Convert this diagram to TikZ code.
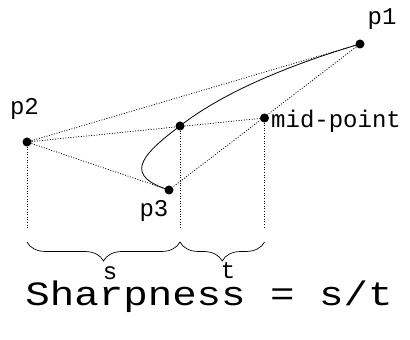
\documentclass[tikz,border=0pt]{standalone}
\usepackage{fontspec}
\setmonofont{Liberation Mono}
\usetikzlibrary{decorations.pathreplacing}

\begin{document}
\begin{tikzpicture}[
    x=1pt, y=1pt,
    dot/.style={circle, fill=black, inner sep=0pt, minimum size=9pt},
    guide/.style={dash pattern=on 1pt off 1.6pt, line width=0.75pt, draw=black},
    curve/.style={line width=0.8pt, draw=black},
    lbl/.style={anchor=base, inner sep=0pt, font=\fontsize{24}{29}\selectfont\ttfamily},
    bracket/.style={decorate, decoration={brace, mirror, amplitude=19pt}, line width=0.7pt}
]
    \useasboundingbox (0,0) rectangle (410,340);

    % Points
    \node[dot] (p1) at (360,296) {};
    \node[dot] (p2) at (27,198) {};
    \node[dot] (p3) at (169,150) {};
    \node[dot] (c) at (180,214) {};
    \node[dot] (mid) at (264.5,222) {};
    \coordinate (p2-foot) at (27,112);
    \coordinate (c-foot) at (180,112);
    \coordinate (mid-foot) at (264.5,112);
    \coordinate (s-left) at (27,98);
    \coordinate (s-right) at (180,98);
    \coordinate (t-right) at (264.5,98);

    % Labels
    \node[lbl] (p1-text) at (382,315) {p1};
    \node[lbl] (p2-text) at (24.5,225) {p2};
    \node[lbl] (p3-text) at (154,123) {p3};
    \node[lbl, anchor=base west] (mid-text) at (271,212) {mid-point};
    \node[lbl] (s-text) at (110,60) {s};
    \node[lbl] (t-text) at (228,61) {t};
    \node[anchor=base, inner sep=0pt, xscale=1.2, transform shape,
          font=\fontsize{34}{40}\selectfont\ttfamily] (sharp) at (209,34) {Sharpness = s/t};

    % Construction lines
    \draw[guide] (p2) -- (p1);
    \draw[guide] (p2) -- (mid);
    \draw[guide] (p2) -- (p3);
    \draw[guide] (p1) -- (p3);
    \draw[guide] (p2) -- (p2-foot);
    \draw[guide] (c) -- (c-foot);
    \draw[guide] (mid) -- (mid-foot);

    % Curve
    \draw[curve] (p1.center) .. controls (302.5,279.1) and (227.6,251.4) .. (c.center)
        .. controls (136.3,181.6) and (126.4,163.7) .. (p3.center);

    % Braces
    \draw[bracket] (s-left) -- (s-right);
    \draw[bracket] (s-right) -- (t-right);
\end{tikzpicture}
\end{document}
